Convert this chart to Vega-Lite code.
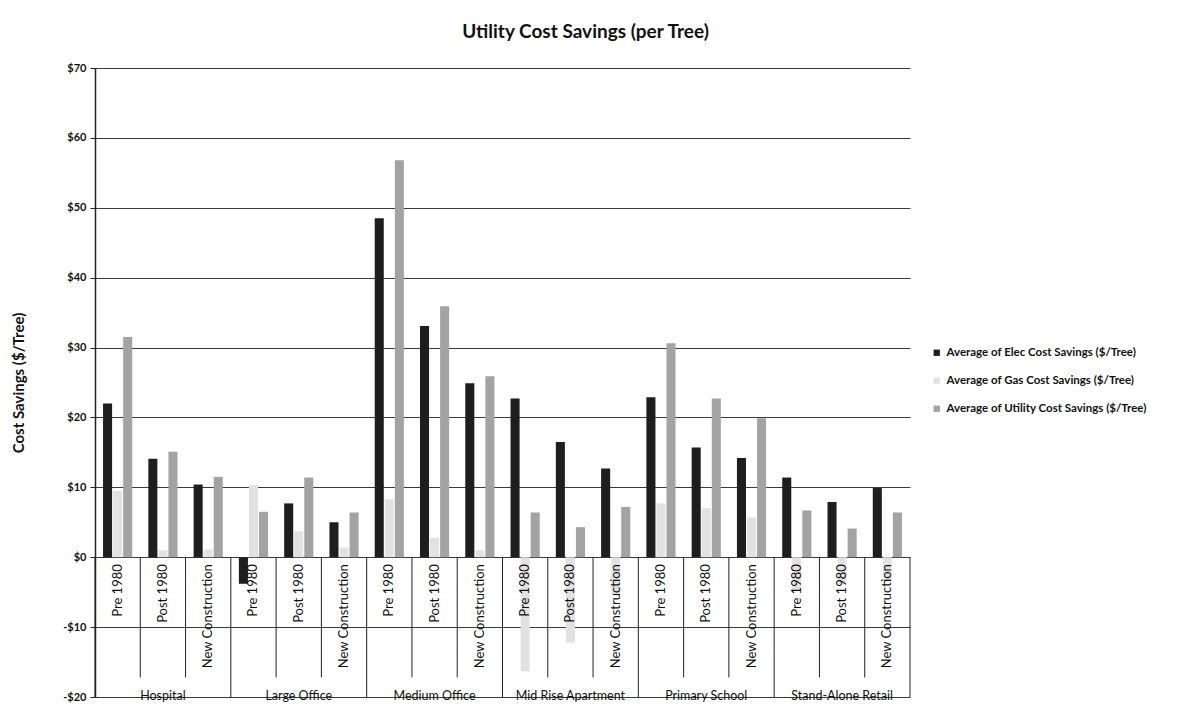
{
  "$schema": "https://vega.github.io/schema/vega-lite/v6.json",
  "autosize": {"type": "none"},
  "padding": {"left": 95, "top": 68, "right": 281, "bottom": 13},
  "width": 815,
  "height": 629,
  "background": "white",
  "config": {
    "view": {"stroke": null},
    "font": "Lato",
    "axis": {"labelFont": "Lato", "titleFont": "Lato"},
    "legend": {"labelFont": "Lato"}
  },
  "title": {
    "text": "Utility Cost Savings (per Tree)",
    "fontSize": 19,
    "fontWeight": "bold",
    "color": "#111111",
    "anchor": "middle",
    "dx": 83,
    "offset": 20
  },
  "datasets": {
    "bars": [
      {"cat": "H1", "series": "Average of Elec Cost Savings ($/Tree)", "value": 22.0},
      {"cat": "H1", "series": "Average of Gas Cost Savings ($/Tree)", "value": 9.5},
      {"cat": "H1", "series": "Average of Utility Cost Savings ($/Tree)", "value": 31.5},
      {"cat": "H2", "series": "Average of Elec Cost Savings ($/Tree)", "value": 14.1},
      {"cat": "H2", "series": "Average of Gas Cost Savings ($/Tree)", "value": 1.0},
      {"cat": "H2", "series": "Average of Utility Cost Savings ($/Tree)", "value": 15.1},
      {"cat": "H3", "series": "Average of Elec Cost Savings ($/Tree)", "value": 10.4},
      {"cat": "H3", "series": "Average of Gas Cost Savings ($/Tree)", "value": 1.1},
      {"cat": "H3", "series": "Average of Utility Cost Savings ($/Tree)", "value": 11.5},
      {"cat": "L1", "series": "Average of Elec Cost Savings ($/Tree)", "value": -3.8},
      {"cat": "L1", "series": "Average of Gas Cost Savings ($/Tree)", "value": 10.3},
      {"cat": "L1", "series": "Average of Utility Cost Savings ($/Tree)", "value": 6.5},
      {"cat": "L2", "series": "Average of Elec Cost Savings ($/Tree)", "value": 7.7},
      {"cat": "L2", "series": "Average of Gas Cost Savings ($/Tree)", "value": 3.7},
      {"cat": "L2", "series": "Average of Utility Cost Savings ($/Tree)", "value": 11.4},
      {"cat": "L3", "series": "Average of Elec Cost Savings ($/Tree)", "value": 5.0},
      {"cat": "L3", "series": "Average of Gas Cost Savings ($/Tree)", "value": 1.4},
      {"cat": "L3", "series": "Average of Utility Cost Savings ($/Tree)", "value": 6.4},
      {"cat": "M1", "series": "Average of Elec Cost Savings ($/Tree)", "value": 48.5},
      {"cat": "M1", "series": "Average of Gas Cost Savings ($/Tree)", "value": 8.3},
      {"cat": "M1", "series": "Average of Utility Cost Savings ($/Tree)", "value": 56.8},
      {"cat": "M2", "series": "Average of Elec Cost Savings ($/Tree)", "value": 33.1},
      {"cat": "M2", "series": "Average of Gas Cost Savings ($/Tree)", "value": 2.8},
      {"cat": "M2", "series": "Average of Utility Cost Savings ($/Tree)", "value": 35.9},
      {"cat": "M3", "series": "Average of Elec Cost Savings ($/Tree)", "value": 24.9},
      {"cat": "M3", "series": "Average of Gas Cost Savings ($/Tree)", "value": 1.0},
      {"cat": "M3", "series": "Average of Utility Cost Savings ($/Tree)", "value": 25.9},
      {"cat": "A1", "series": "Average of Elec Cost Savings ($/Tree)", "value": 22.7},
      {"cat": "A1", "series": "Average of Gas Cost Savings ($/Tree)", "value": -16.3},
      {"cat": "A1", "series": "Average of Utility Cost Savings ($/Tree)", "value": 6.4},
      {"cat": "A2", "series": "Average of Elec Cost Savings ($/Tree)", "value": 16.5},
      {"cat": "A2", "series": "Average of Gas Cost Savings ($/Tree)", "value": -12.2},
      {"cat": "A2", "series": "Average of Utility Cost Savings ($/Tree)", "value": 4.3},
      {"cat": "A3", "series": "Average of Elec Cost Savings ($/Tree)", "value": 12.7},
      {"cat": "A3", "series": "Average of Gas Cost Savings ($/Tree)", "value": -5.5},
      {"cat": "A3", "series": "Average of Utility Cost Savings ($/Tree)", "value": 7.2},
      {"cat": "P1", "series": "Average of Elec Cost Savings ($/Tree)", "value": 22.9},
      {"cat": "P1", "series": "Average of Gas Cost Savings ($/Tree)", "value": 7.7},
      {"cat": "P1", "series": "Average of Utility Cost Savings ($/Tree)", "value": 30.6},
      {"cat": "P2", "series": "Average of Elec Cost Savings ($/Tree)", "value": 15.7},
      {"cat": "P2", "series": "Average of Gas Cost Savings ($/Tree)", "value": 7.0},
      {"cat": "P2", "series": "Average of Utility Cost Savings ($/Tree)", "value": 22.7},
      {"cat": "P3", "series": "Average of Elec Cost Savings ($/Tree)", "value": 14.2},
      {"cat": "P3", "series": "Average of Gas Cost Savings ($/Tree)", "value": 5.7},
      {"cat": "P3", "series": "Average of Utility Cost Savings ($/Tree)", "value": 19.9},
      {"cat": "S1", "series": "Average of Elec Cost Savings ($/Tree)", "value": 11.4},
      {"cat": "S1", "series": "Average of Gas Cost Savings ($/Tree)", "value": -4.7},
      {"cat": "S1", "series": "Average of Utility Cost Savings ($/Tree)", "value": 6.7},
      {"cat": "S2", "series": "Average of Elec Cost Savings ($/Tree)", "value": 7.9},
      {"cat": "S2", "series": "Average of Gas Cost Savings ($/Tree)", "value": -3.8},
      {"cat": "S2", "series": "Average of Utility Cost Savings ($/Tree)", "value": 4.1},
      {"cat": "S3", "series": "Average of Elec Cost Savings ($/Tree)", "value": 9.9},
      {"cat": "S3", "series": "Average of Gas Cost Savings ($/Tree)", "value": -3.5},
      {"cat": "S3", "series": "Average of Utility Cost Savings ($/Tree)", "value": 6.4}
    ],
    "cats": [
      {"cat": "H1", "building": "Hospital", "vintage": "Pre 1980", "pos": "first"},
      {"cat": "H2", "building": "Hospital", "vintage": "Post 1980", "pos": "mid"},
      {"cat": "H3", "building": "Hospital", "vintage": "New Construction", "pos": "mid"},
      {"cat": "L1", "building": "Large Office", "vintage": "Pre 1980", "pos": "first"},
      {"cat": "L2", "building": "Large Office", "vintage": "Post 1980", "pos": "mid"},
      {"cat": "L3", "building": "Large Office", "vintage": "New Construction", "pos": "mid"},
      {"cat": "M1", "building": "Medium Office", "vintage": "Pre 1980", "pos": "first"},
      {"cat": "M2", "building": "Medium Office", "vintage": "Post 1980", "pos": "mid"},
      {"cat": "M3", "building": "Medium Office", "vintage": "New Construction", "pos": "mid"},
      {"cat": "A1", "building": "Mid Rise Apartment", "vintage": "Pre 1980", "pos": "first"},
      {"cat": "A2", "building": "Mid Rise Apartment", "vintage": "Post 1980", "pos": "mid"},
      {"cat": "A3", "building": "Mid Rise Apartment", "vintage": "New Construction", "pos": "mid"},
      {"cat": "P1", "building": "Primary School", "vintage": "Pre 1980", "pos": "first"},
      {"cat": "P2", "building": "Primary School", "vintage": "Post 1980", "pos": "mid"},
      {"cat": "P3", "building": "Primary School", "vintage": "New Construction", "pos": "mid"},
      {"cat": "S1", "building": "Stand-Alone Retail", "vintage": "Pre 1980", "pos": "first"},
      {"cat": "S2", "building": "Stand-Alone Retail", "vintage": "Post 1980", "pos": "mid"},
      {"cat": "S3", "building": "Stand-Alone Retail", "vintage": "New Construction", "pos": "last"}
    ]
  },
  "layer": [
    {
      "data": {"name": "bars"},
      "mark": {"type": "bar"},
      "encoding": {
        "x": {
          "field": "cat", "type": "nominal",
          "scale": {"domain": ["H1","H2","H3","L1","L2","L3","M1","M2","M3","A1","A2","A3","P1","P2","P3","S1","S2","S3"], "paddingInner": 0, "paddingOuter": 0},
          "axis": null
        },
        "xOffset": {
          "field": "series", "type": "nominal",
          "scale": {"domain": ["Average of Elec Cost Savings ($/Tree)", "Average of Gas Cost Savings ($/Tree)", "Average of Utility Cost Savings ($/Tree)"], "paddingInner": 0.1, "paddingOuter": 0.8}
        },
        "y": {
          "field": "value", "type": "quantitative",
          "scale": {"domain": [-20, 70], "nice": false, "zero": false},
          "axis": {
            "values": [-20, -10, 0, 10, 20, 30, 40, 50, 60, 70],
            "labelExpr": "datum.value < 0 ? '-$' + abs(datum.value) : '$' + datum.value",
            "title": "Cost Savings ($/Tree)",
            "titleFontSize": 15,
            "titleFontWeight": "bold",
            "titleColor": "#111111",
            "titlePadding": 36,
            "labelFontSize": 11,
            "labelFontWeight": "bold",
            "labelColor": "#111111",
            "labelPadding": 4,
            "domainColor": "#222222",
            "domainWidth": 1.5,
            "tickColor": "#222222",
            "tickSize": 5,
            "grid": true,
            "gridColor": "#3a3a3a",
            "gridWidth": 1
          }
        },
        "color": {
          "field": "series", "type": "nominal",
          "scale": {
            "domain": ["Average of Elec Cost Savings ($/Tree)", "Average of Gas Cost Savings ($/Tree)", "Average of Utility Cost Savings ($/Tree)"],
            "range": ["#1e1e1e", "#e2e2e2", "#a3a3a3"]
          },
          "legend": {
            "title": null,
            "orient": "none",
            "legendX": 836,
            "legendY": 279,
            "symbolType": "square",
            "symbolSize": 40,
            "symbolStrokeWidth": 0,
            "labelFontSize": 11.5,
            "labelColor": "#111111",
            "labelFontWeight": "bold",
            "rowPadding": 15,
            "labelLimit": 300
          }
        }
      }
    },
    {
      "data": {"name": "cats"},
      "transform": [{"filter": "datum.pos != 'first'"}],
      "mark": {"type": "rule", "color": "#222222", "strokeWidth": 1},
      "encoding": {
        "x": {"field": "cat", "type": "nominal", "bandPosition": 0},
        "y": {"datum": 0},
        "y2": {"datum": -17.2}
      }
    },
    {
      "data": {"name": "cats"},
      "transform": [{"filter": "datum.pos == 'first'"}],
      "mark": {"type": "rule", "color": "#222222", "strokeWidth": 1},
      "encoding": {
        "x": {"field": "cat", "type": "nominal", "bandPosition": 0},
        "y": {"datum": 0},
        "y2": {"datum": -20}
      }
    },
    {
      "data": {"name": "cats"},
      "transform": [{"filter": "datum.pos == 'last'"}],
      "mark": {"type": "rule", "color": "#222222", "strokeWidth": 1},
      "encoding": {
        "x": {"field": "cat", "type": "nominal", "bandPosition": 1},
        "y": {"datum": 0},
        "y2": {"datum": -20}
      }
    },
    {
      "data": {"name": "cats"},
      "mark": {"type": "text", "angle": 270, "align": "right", "baseline": "middle", "dx": -7, "dy": 0, "fontSize": 13, "color": "#111111"},
      "encoding": {
        "x": {"field": "cat", "type": "nominal", "bandPosition": 0.5},
        "y": {"datum": 0},
        "text": {"field": "vintage"}
      }
    },
    {
      "data": {"name": "cats"},
      "transform": [{"filter": "datum.vintage == 'Post 1980'"}],
      "mark": {"type": "text", "align": "center", "baseline": "middle", "dy": -1, "fontSize": 12.5, "color": "#111111"},
      "encoding": {
        "x": {"field": "cat", "type": "nominal", "bandPosition": 0.5},
        "y": {"datum": -20},
        "text": {"field": "building"}
      }
    }
  ]
}
